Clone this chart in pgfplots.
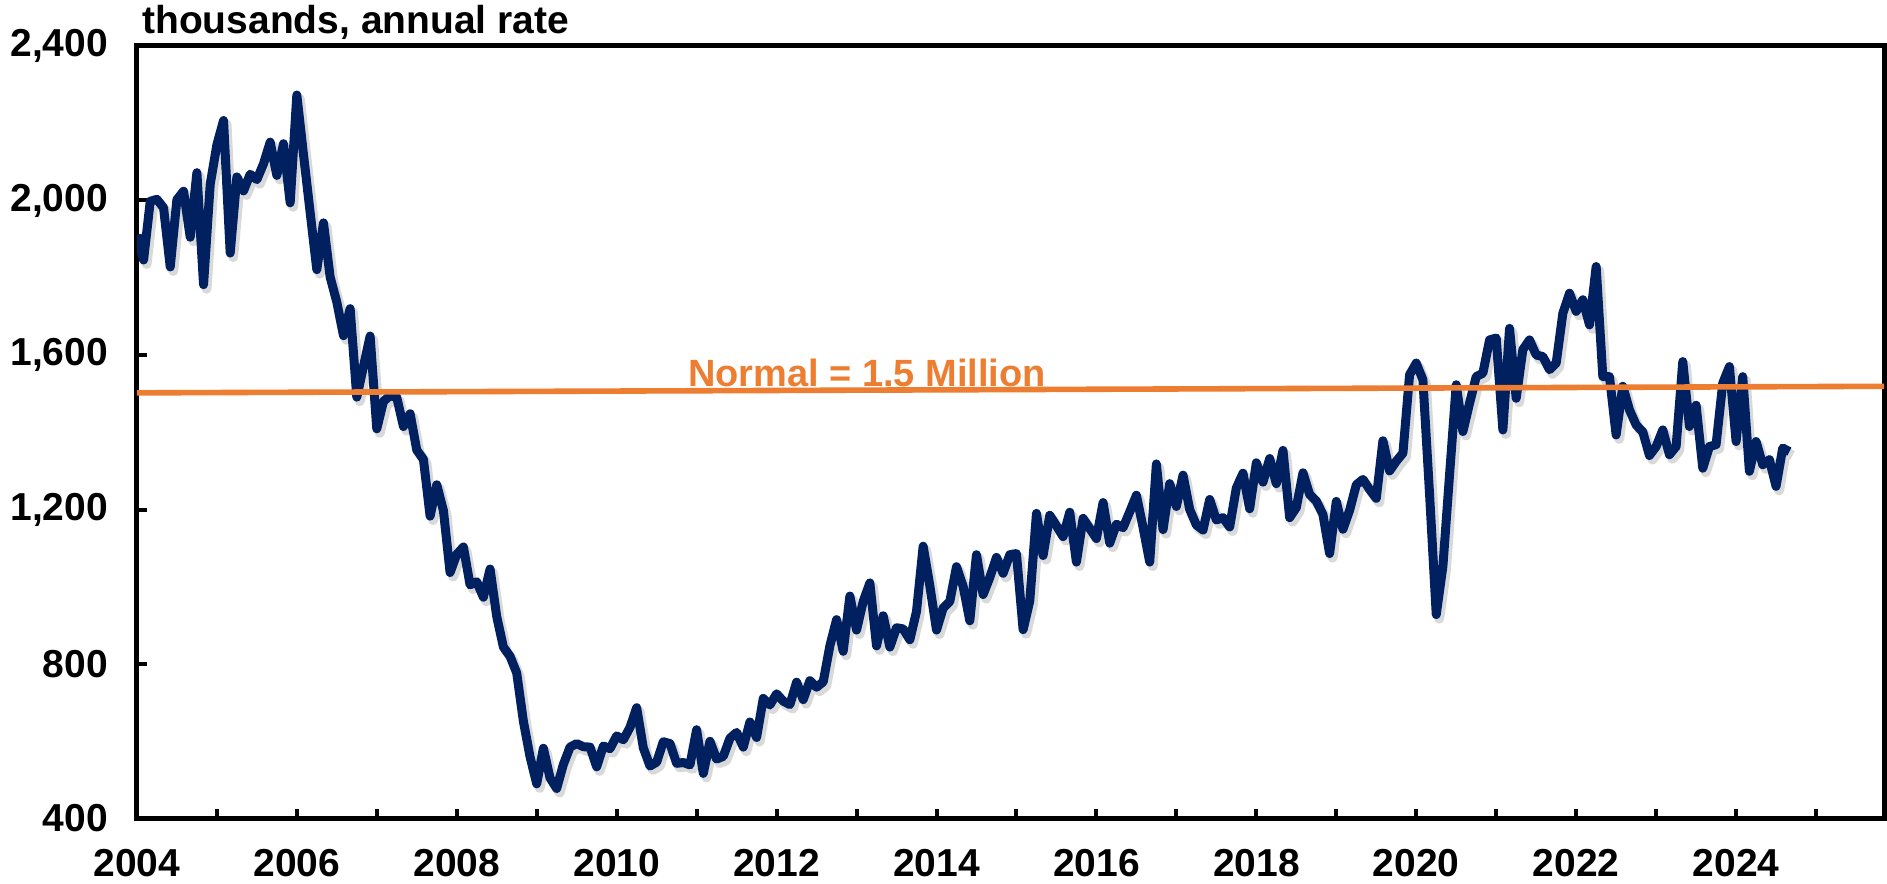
\documentclass[border=0pt]{standalone}
\usepackage{fontspec}
\setmainfont{Liberation Sans}
\usepackage{pgfplots}
\usepackage{pgfplotstable}
\pgfplotsset{compat=1.18}

\definecolor{navy}{RGB}{0,32,96}
\definecolor{normorange}{RGB}{237,125,49}

% housing starts, thousands SAAR, monthly from Jan 2004
\pgfplotstableread[row sep=\\]{
v\\
1911\\1846\\1998\\2003\\1981\\1828\\2002\\2024\\1905\\2072\\1782\\2042\\
2144\\2207\\1864\\2061\\2025\\2068\\2054\\2095\\2151\\2065\\2147\\1994\\
2273\\2119\\1969\\1821\\1942\\1802\\1737\\1650\\1720\\1491\\1570\\1649\\
1409\\1480\\1495\\1490\\1415\\1448\\1354\\1330\\1183\\1264\\1197\\1037\\
1084\\1103\\1005\\1013\\973\\1046\\923\\844\\820\\777\\652\\560\\
490\\582\\505\\478\\540\\585\\594\\586\\585\\534\\588\\581\\
614\\604\\636\\687\\583\\536\\546\\599\\594\\543\\545\\539\\
630\\517\\600\\554\\561\\608\\623\\585\\650\\610\\711\\694\\
723\\704\\695\\753\\708\\757\\740\\754\\847\\915\\833\\976\\
888\\962\\1010\\847\\925\\844\\894\\891\\863\\936\\1105\\1003\\
888\\945\\962\\1052\\1001\\912\\1083\\980\\1024\\1076\\1035\\1083\\
1086\\889\\963\\1190\\1081\\1185\\1158\\1130\\1193\\1064\\1177\\1151\\
1125\\1218\\1113\\1162\\1153\\1194\\1237\\1154\\1064\\1318\\1148\\1267\\
1208\\1289\\1200\\1160\\1147\\1226\\1173\\1179\\1155\\1256\\1294\\1202\\
1321\\1271\\1332\\1267\\1353\\1179\\1205\\1295\\1239\\1222\\1187\\1086\\
1221\\1149\\1198\\1264\\1278\\1252\\1229\\1378\\1300\\1325\\1346\\1549\\
1579\\1536\\1240\\928\\1053\\1290\\1523\\1402\\1475\\1544\\1553\\1639\\
1644\\1406\\1669\\1488\\1614\\1639\\1600\\1596\\1562\\1579\\1708\\1760\\
1713\\1743\\1678\\1829\\1544\\1544\\1393\\1519\\1458\\1419\\1401\\1340\\
1363\\1406\\1342\\1363\\1583\\1415\\1470\\1307\\1363\\1368\\1527\\1570\\
1376\\1544\\1299\\1376\\1316\\1329\\1260\\1359\\1350\\
}\starts

\begin{document}
\begin{tikzpicture}
\begin{axis}[
  scale only axis,
  width=874bp, height=386.5bp,
  xmin=2004, xmax=2025.85,
  ymin=400, ymax=2400,
  xtick={2004,2006,...,2024},
  minor xtick={2005,2007,...,2025},
  ytick={400,800,...,2400},
  tick align=inside,
  xtick pos=bottom, ytick pos=left,
  major tick length=5bp, minor tick length=5bp,
  every tick/.style={black, line width=2bp},
  axis line style={line width=2.5bp, line cap=rect},
  tick label style={font=\fontsize{19.5bp}{22bp}\selectfont\bfseries},
  /pgf/number format/assume math mode=true,
  xticklabel style={/pgf/number format/1000 sep={}, yshift=-12bp},
  yticklabel style={/pgf/number format/1000 sep={,}, xshift=-11bp},
]
% soft shadow under the series
\addplot[gray, opacity=0.3, line width=5bp, line join=round,
  transform canvas={xshift=1.5bp, yshift=-2bp}]
  table[x expr=2004+\coordindex/12, y=v] {\starts};
\addplot[navy, line width=4.5bp, line join=round]
  table[x expr=2004+\coordindex/12, y=v] {\starts};
\addplot[normorange, line width=2.8bp] coordinates {(2004,1502) (2025.85,1519)};
\node[normorange, anchor=base, inner sep=0pt,
  font=\fontsize{19bp}{22bp}\selectfont\bfseries] at (axis cs:2013.13,1519) {Normal = 1.5 Million};
\coordinate (bl) at (rel axis cs:0,0);
\coordinate (tr) at (rel axis cs:1,1);
\coordinate (tl) at (rel axis cs:0,1);
\end{axis}
\node[anchor=base west, inner sep=0pt, font=\fontsize{19.5bp}{22bp}\selectfont\bfseries]
  at ([shift={(2.5bp,6bp)}]tl) {thousands, annual rate};
\pgfresetboundingbox
\useasboundingbox ([shift={(-68.5bp,-32.5bp)}]bl) rectangle ([shift={(1.5bp,23bp)}]tr);
\end{tikzpicture}
\end{document}
